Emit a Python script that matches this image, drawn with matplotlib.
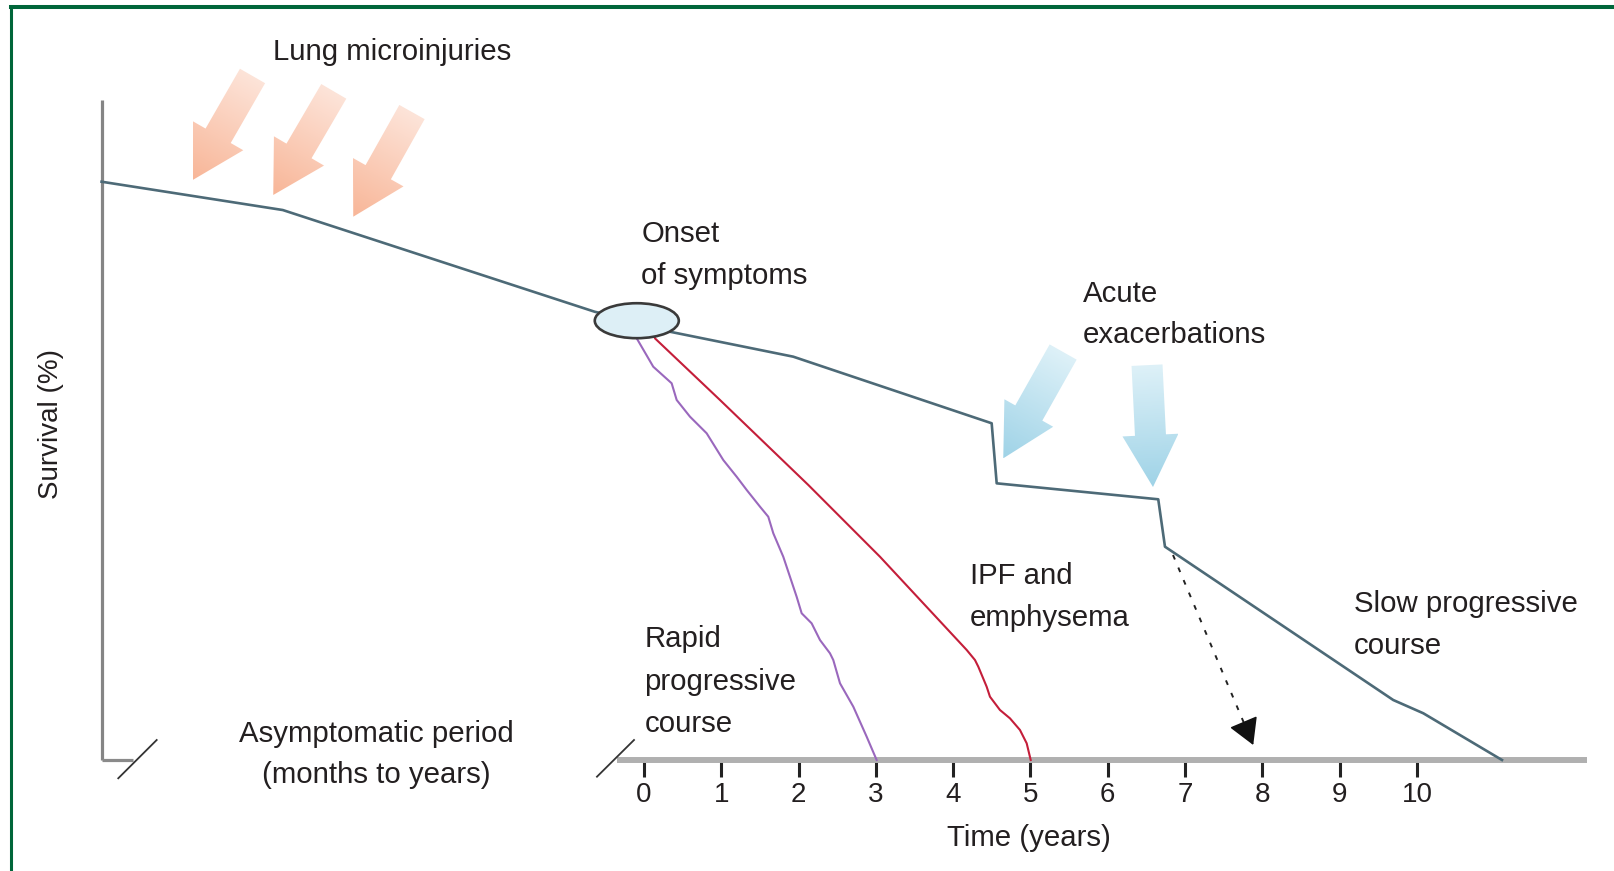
"""IPF natural history schematic: survival (%) over time (years)."""

import matplotlib.pyplot as plt
import numpy as np
from matplotlib.colors import to_rgb
from matplotlib.lines import Line2D
from matplotlib.patches import Ellipse, FancyArrowPatch, Polygon

plt.rcParams["font.family"] = ["Liberation Sans", "DejaVu Sans"]

# ---- data: x in years (negative = asymptomatic period), y = survival (%)
main_x = [-7.017, -4.673, -0.638, -0.12, 0.336, 1.931, 4.498, 4.563,
          6.653, 6.740, 9.693, 10.082, 11.10]
main_y = [87.62, 83.33, 67.92, 66.5, 64.89, 61.11, 51.02, 41.92,
          39.50, 32.32, 9.09, 7.08, 0]

rapid_x = [-0.094, -0.094, 0.120, 0.358, 0.423, 0.595, 0.811, 1.026, 1.199,
           1.329, 1.501, 1.608, 1.673, 1.802, 1.975, 2.040, 2.169, 2.277,
           2.406, 2.449, 2.536, 2.708, 2.881, 3.010]
rapid_y = [65.5, 63.89, 59.59, 57.08, 54.55, 52.02, 49.50, 45.45, 42.92,
           40.91, 38.38, 36.86, 34.35, 30.80, 24.74, 22.23, 20.71, 18.18,
           16.17, 15.15, 11.62, 8.08, 3.53, 0]

ipf_x = [0.12, 0.142, 0.983, 2.126, 3.053, 4.175, 4.282, 4.325, 4.433,
         4.476, 4.605, 4.735, 4.864, 4.951, 5.003]
ipf_y = [65.5, 63.89, 54.55, 41.67, 30.80, 16.67, 15.15, 14.14, 11.11,
         9.59, 7.58, 6.31, 4.55, 2.53, 0]

onset_x, onset_y = -0.093, 66.56
onset_w, onset_h = 1.087, 5.30

death_from = (6.844, 31.06)
death_to = (7.882, 2.27)

year_ticks = list(range(11))

micro_tip_x = [-5.838, -4.796, -3.761]
micro_tip_y = [87.88, 85.61, 82.32]
micro_angle = [240.1, 239.7, 240.7]

acute_tip_x = [4.648, 6.585]
acute_tip_y = [45.71, 41.36]
acute_angle = [240.6, 272.8]

TEXT = "#231f20"
MAIN = "#4d6a77"


def block_arrow(ax, tip, angle, length, shaft_w, head_w, head_l,
                c_tail, c_head):
    """Fat arrow with a colour gradient, sized in pixels."""
    tr = ax.transData
    tip_px = tr.transform(tip)
    u = np.array([np.cos(np.radians(angle)), np.sin(np.radians(angle))])
    n = np.array([-u[1], u[0]])
    tail = tip_px - length * u
    neck = tip_px - head_l * u
    pts_px = np.array([
        tail + n * shaft_w / 2,
        neck + n * shaft_w / 2,
        neck + n * head_w / 2,
        tip_px,
        neck - n * head_w / 2,
        neck - n * shaft_w / 2,
        tail - n * shaft_w / 2,
    ])
    pts = tr.inverted().transform(pts_px)
    poly = Polygon(pts, closed=True, facecolor="none", edgecolor="none")
    ax.add_patch(poly)

    x0, y0 = pts.min(axis=0)
    x1, y1 = pts.max(axis=0)
    gx, gy = np.meshgrid(np.linspace(x0, x1, 120), np.linspace(y0, y1, 120))
    g_px = tr.transform(np.column_stack([gx.ravel(), gy.ravel()]))
    t = np.clip(((g_px - tail) @ u) / length, 0, 1).reshape(gx.shape)
    ca = np.array(to_rgb(c_tail))
    cb = np.array(to_rgb(c_head))
    img = ca + (cb - ca) * t[..., None]
    im = ax.imshow(img, extent=(x0, x1, y0, y1), origin="lower",
                   aspect="auto", interpolation="bilinear", zorder=3)
    im.set_clip_path(poly)


fig = plt.figure(figsize=(16.14, 8.71), dpi=100)
ax = fig.add_axes([0, 0, 1, 1])
ax.set_xlim(-8.331, 12.549)
ax.set_ylim(-16.818, 115.152)
ax.axis("off")

# axes (broken)
ax.plot([-7.017, -7.017], [100, 0], color="#858585", lw=2.3,
        solid_capstyle="butt", zorder=1)
ax.plot([-7.017, -6.611], [0, 0], color="#8a8a8a", lw=2.3,
        solid_capstyle="butt", zorder=1)
ax.plot([-6.801, -6.304], [-2.77, 3.03], color="#333333", lw=1.3, zorder=2)
ax.plot([-0.349, 12.199], [0, 0], color="#b0b0b0", lw=4.3,
        solid_capstyle="butt", zorder=1)
ax.plot([-0.608, -0.129], [-2.53, 3.03], color="#333333", lw=1.3, zorder=2)

for t in year_ticks:
    ax.plot([t, t], [0, -2.6], color="#222222", lw=2.2,
            solid_capstyle="butt", zorder=0.5)
    ax.text(t, -5.24, str(t), ha="center", va="center", fontsize=20,
            color=TEXT)

# curves
ax.plot(main_x, main_y, color=MAIN, lw=1.9, zorder=2)
ax.plot(rapid_x, rapid_y, color="#9a68bd", lw=1.5, zorder=2)
ax.plot(ipf_x, ipf_y, color="#c41e3a", lw=1.5, zorder=2)

ax.add_patch(Ellipse((onset_x, onset_y), onset_w, onset_h,
                     facecolor="#ddeff6", edgecolor="#3a3a3a", lw=1.9,
                     zorder=4))

# dashed arrow: dashed shaft plus a solid head
head_base = (death_from[0] + 0.9 * (death_to[0] - death_from[0]),
             death_from[1] + 0.9 * (death_to[1] - death_from[1]))
ax.plot([death_from[0], head_base[0]], [death_from[1], head_base[1]],
        color="#222222", lw=1.4, linestyle=(0, (2.5, 4.5)), zorder=3)
ax.add_patch(FancyArrowPatch(
    head_base, death_to,
    arrowstyle="-|>,head_length=1.63,head_width=0.94", mutation_scale=10,
    color="#111111", lw=1.2, shrinkA=0, shrinkB=0, zorder=3))

for tx, ty, ang in zip(micro_tip_x, micro_tip_y, micro_angle):
    block_arrow(ax, (tx, ty), ang, 120, 29, 58, 51, "#fde4d9", "#f8b698")

for tx, ty, ang in zip(acute_tip_x, acute_tip_y, acute_angle):
    block_arrow(ax, (tx, ty), ang, 122, 31, 56, 52, "#def1f8", "#9fd3e7")

# labels
labels = [
    ("Lung microinjuries", -4.802, 106.11, "left"),
    ("Onset", -0.035, 78.50, "left"),
    ("of symptoms", -0.035, 72.11, "left"),
    ("Acute", 5.677, 69.45, "left"),
    ("exacerbations", 5.677, 63.21, "left"),
    ("IPF and", 4.212, 26.73, "left"),
    ("emphysema", 4.212, 20.33, "left"),
    ("Rapid", 0.004, 17.06, "left"),
    ("progressive", 0.004, 10.67, "left"),
    ("course", 0.004, 4.27, "left"),
    ("Slow progressive", 9.179, 22.36, "left"),
    ("course", 9.179, 16.12, "left"),
    ("Asymptomatic period", -3.464, 2.71, "center"),
    ("(months to years)", -3.464, -3.53, "center"),
    ("Time (years)", 4.985, -13.05, "center"),
]
for s, x, y, ha in labels:
    ax.text(x, y, s, ha=ha, va="baseline", fontsize=21.2, color=TEXT)

ax.text(-7.665, 50.91, "Survival (%)", rotation=90, ha="center",
        va="center", fontsize=20, color=TEXT)

# frame (top and left edges only)
fig.add_artist(Line2D([11.3 / 1614, 1], [1 - 7 / 871, 1 - 7 / 871],
                      transform=fig.transFigure, color="#00663a", lw=2.9))
fig.add_artist(Line2D([11.3 / 1614, 11.3 / 1614], [0, 1 - 7 / 871],
                      transform=fig.transFigure, color="#00663a", lw=2.2))

fig.savefig("out.png", dpi=100)
